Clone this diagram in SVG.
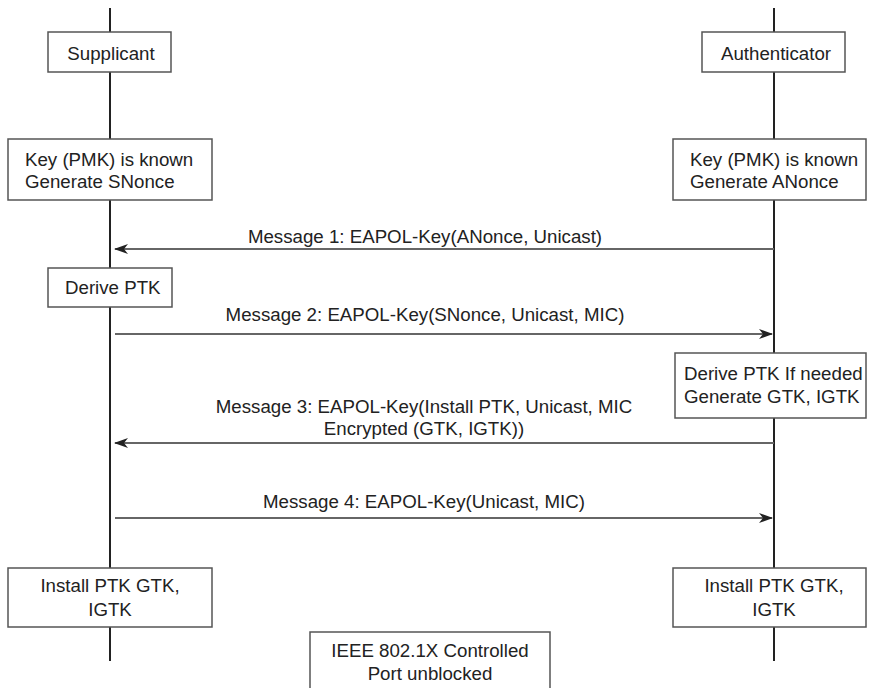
<svg xmlns="http://www.w3.org/2000/svg" width="869" height="688" viewBox="0 0 869 688">
<style>
.box{fill:#fff;stroke:#555;stroke-width:1.5}
.life{stroke:#222;stroke-width:2;fill:none}
.msg{stroke:#666;stroke-width:1.8;fill:none}
text{font-family:"Liberation Sans",Arial,sans-serif;font-size:18.7px;fill:#222}
.c{text-anchor:middle}
</style>
<defs>
<marker id="ah" viewBox="0 0 14 10" refX="13" refY="5" markerWidth="14" markerHeight="10" markerUnits="userSpaceOnUse" orient="auto">
<path d="M0,0 L14,5 L0,10 L4,5 Z" fill="#222"/>
</marker>
</defs>
<g id="lifelines">
<line class="life" x1="110" y1="8" x2="110" y2="661"/>
<line class="life" x1="774" y1="8" x2="774" y2="661"/>
</g>
<g id="connectors">
<g id="m1">
<line class="msg" x1="774" y1="249" x2="115" y2="249" marker-end="url(#ah)"/>
<text class="c" x="425" y="243">Message 1: EAPOL-Key(ANonce, Unicast)</text>
</g>
<g id="m2">
<line class="msg" x1="115" y1="334" x2="772" y2="334" marker-end="url(#ah)"/>
<text class="c" x="425" y="321">Message 2: EAPOL-Key(SNonce, Unicast, MIC)</text>
</g>
<g id="m3">
<line class="msg" x1="774" y1="443" x2="115" y2="443" marker-end="url(#ah)"/>
<text class="c" x="424" y="413">Message 3: EAPOL-Key(Install PTK, Unicast, MIC</text>
<text class="c" x="424" y="435">Encrypted (GTK, IGTK))</text>
</g>
<g id="m4">
<line class="msg" x1="115" y1="518" x2="772" y2="518" marker-end="url(#ah)"/>
<text class="c" x="424" y="508">Message 4: EAPOL-Key(Unicast, MIC)</text>
</g>
</g>
<g id="supplicant">
<rect class="box" x="48" y="32" width="123" height="40"/>
<text class="c" x="111" y="60">Supplicant</text>
</g>
<g id="authenticator">
<rect class="box" x="702" y="32" width="143" height="40"/>
<text class="c" x="776" y="60">Authenticator</text>
</g>
<g id="supp-key">
<rect class="box" x="8" y="139" width="204" height="61"/>
<text x="25" y="166">Key (PMK) is known</text>
<text x="25" y="188">Generate SNonce</text>
</g>
<g id="auth-key">
<rect class="box" x="673" y="139" width="193" height="61"/>
<text x="690" y="166">Key (PMK) is known</text>
<text x="690" y="188">Generate ANonce</text>
</g>
<g id="supp-derive">
<rect class="box" x="48" y="268" width="124" height="39"/>
<text x="65" y="294">Derive PTK</text>
</g>
<g id="auth-derive">
<rect class="box" x="675" y="353" width="191" height="65"/>
<text x="684" y="380">Derive PTK If needed</text>
<text x="684" y="403">Generate GTK, IGTK</text>
</g>
<g id="supp-install">
<rect class="box" x="8" y="568" width="204" height="59"/>
<text class="c" x="110" y="592">Install PTK GTK,</text>
<text class="c" x="110" y="616">IGTK</text>
</g>
<g id="auth-install">
<rect class="box" x="673" y="568" width="193" height="59"/>
<text class="c" x="774" y="592">Install PTK GTK,</text>
<text class="c" x="774" y="616">IGTK</text>
</g>
<g id="port">
<rect class="box" x="310" y="632" width="240" height="62"/>
<text class="c" x="430" y="657">IEEE 802.1X Controlled</text>
<text class="c" x="430" y="680">Port unblocked</text>
</g>
</svg>
